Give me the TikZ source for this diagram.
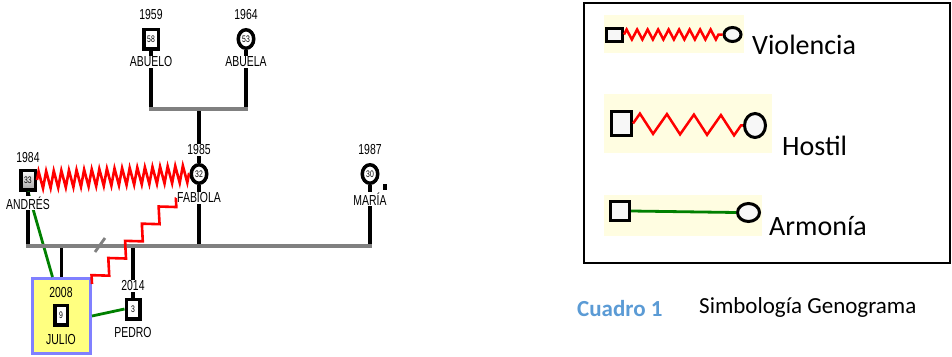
\documentclass[tikz,border=0pt]{standalone}
\usepackage{fontspec}
\usetikzlibrary{shapes.geometric,decorations.pathmorphing}
\newfontfamily\geno[FakeStretch=0.72]{Liberation Sans}
\newfontfamily\cali{Carlito}
\definecolor{gris}{RGB}{128,128,128}
\definecolor{rojo}{RGB}{255,0,0}
\definecolor{verde}{RGB}{0,128,0}
\definecolor{amarillo}{RGB}{255,255,128}
\definecolor{lila}{RGB}{128,128,255}
\definecolor{fondo}{RGB}{255,253,225}
\definecolor{azul}{RGB}{91,155,213}
\tikzset{
  varon/.style={draw,line width=3.5pt,fill=white,minimum width=14.5pt,minimum height=19.5pt,inner sep=0pt,font=\geno\fontsize{9.5}{10}\selectfont},
  mujer/.style={ellipse,draw,line width=3.5pt,fill=white,minimum width=15.5pt,minimum height=18.5pt,inner sep=0pt,font=\geno\fontsize{9.5}{10}\selectfont},
  etiq/.style={fill=white,inner sep=1pt,font=\geno\fontsize{14.5}{16}\selectfont},
  linea/.style={line width=3.2pt},
  union/.style={gris,line width=4pt,line cap=rect},
  violencia/.style={rojo,line width=2.6pt,decorate,decoration={zigzag,segment length=7.6pt,amplitude=8.5pt}},
  hostil/.style={rojo,line width=2.6pt,decorate,decoration={zigzag,segment length=24pt,amplitude=6.5pt}},
  armonia/.style={verde,line width=2.8pt},
  lsimb/.style={draw,line width=3pt,fill=white!97!black,inner sep=0pt},
  leyenda/.style={anchor=base west,inner sep=0pt,font=\cali\fontsize{28}{30}\selectfont},
}
\begin{document}
\begin{tikzpicture}[x=1pt,y=-1pt]
  \useasboundingbox (0,0) rectangle (952,356);

  % genograma
  \node[varon] (abuelo) at (151,39) {58};
  \node[mujer] (abuela) at (246,39) {53};
  \node[mujer] (fabiola) at (199,174) {32};
  \node[varon,top color=white,bottom color=gray!70] (andres) at (28,180) {33};
  \node[mujer] (maria) at (370,174) {30};
  \node[fill=black,minimum width=4pt,minimum height=6pt,inner sep=0pt] (marca) at (385,187) {};
  \node[draw=lila,fill=amarillo,line width=3pt,minimum width=58pt,minimum height=75pt] (caja) at (61.5,316) {};
  \node[varon,minimum width=12.5pt] (julio) at (61,315) {9};
  \node[varon,minimum width=13.5pt] (pedro) at (133,309) {3};

  \coordinate (b1) at (199,109);
  \coordinate (b2) at (28,246);

  \draw[linea] (abuelo.south) -- (abuelo.south |- b1);
  \draw[linea] (abuela.south) -- (abuela.south |- b1);
  \draw[linea] (fabiola.north) -- (fabiola.north |- b1);
  \draw[armonia] (andres.south) -- ([xshift=-9pt]caja.north);
  \draw[linea] (andres.south) -- (andres.south |- b2);
  \draw[linea] (fabiola.south) -- (fabiola.south |- b2);
  \draw[linea] (maria.south) -- (maria.south |- b2);
  \draw[linea] (caja.north) -- (caja.north |- b2);
  \draw[linea] (pedro.north) -- (pedro.north |- b2);
  \draw[union] (abuelo.south |- b1) -- (abuela.south |- b1);
  \draw[union] (b2) -- (maria.south |- b2);
  \draw[gris,line width=2.8pt] (95,252) -- (105,238);

  \node[etiq] (a1959) at (151,15) {1959};
  \node[etiq] (nabuelo) at (151,62) {ABUELO};
  \node[etiq] (a1964) at (246,15) {1964};
  \node[etiq] (nabuela) at (246,62) {ABUELA};
  \node[etiq] (a1985) at (199,150) {1985};
  \node[etiq] (nfabiola) at (199,198) {FABIOLA};
  \node[etiq] (a1984) at (28,158) {1984};
  \node[etiq] (nandres) at (28,203) {ANDRÉS};
  \node[etiq] (a1987) at (370,150) {1987};
  \node[etiq] (nmaria) at (370,199) {MARÍA};
  \node[etiq,fill=none] (a2008) at (61,293) {2008};
  \node[etiq,fill=none] (njulio) at (61,340) {JULIO};
  \node[etiq] (a2014) at (133,286) {2014};
  \node[etiq] (npedro) at (133,333) {PEDRO};

  \draw[armonia] (caja.east) -- (pedro.west);
  \draw[violencia] (andres.east) -- (fabiola.west);
  \draw[hostil] ([yshift=-7pt]caja.north east) -- (nfabiola.west);

  % simbologia
  \draw[line width=1.5pt] (584,3) rectangle (950,263);
  \fill[fondo] (604,15) rectangle (744,53);
  \fill[fondo] (604,94) rectangle (772,153);
  \fill[fondo] (604,195) rectangle (762,236);

  \node[lsimb,minimum width=16pt,minimum height=13pt] (lv1) at (614.5,34.5) {};
  \node[lsimb,ellipse,minimum width=17pt,minimum height=14pt] (lm1) at (732.5,34.5) {};
  \draw[rojo,line width=2.5pt,decorate,decoration={zigzag,segment length=10.5pt,amplitude=5pt}] (lv1.east) -- (lm1.west);
  \node[leyenda] (tviolencia) at (752,54) {Violencia};

  \node[lsimb,minimum width=20pt,minimum height=24pt] (lv2) at (621.5,123.5) {};
  \node[lsimb,ellipse,minimum width=21pt,minimum height=24pt] (lm2) at (755,125.5) {};
  \draw[rojo,line width=2.5pt,decorate,decoration={zigzag,segment length=27pt,amplitude=10pt}] (lv2.east) -- (lm2.west);
  \node[leyenda] (thostil) at (782,155) {Hostil};

  \node[lsimb,minimum width=19pt,minimum height=19pt] (lv3) at (620,211) {};
  \node[lsimb,ellipse,minimum width=22pt,minimum height=18pt] (lm3) at (748.5,212.5) {};
  \draw[armonia] (lv3.east) -- (lm3.west);
  \node[leyenda] (tarmonia) at (769,235) {Armonía};

  \node[anchor=base west,inner sep=0pt,text=azul,font=\cali\bfseries\fontsize{23}{24}\selectfont] (cuadro) at (577,316) {Cuadro 1};
  \node[anchor=base west,inner sep=0pt,font=\cali\fontsize{23}{24}\selectfont] (titulo) at (699,313) {Simbología Genograma};
\end{tikzpicture}
\end{document}
